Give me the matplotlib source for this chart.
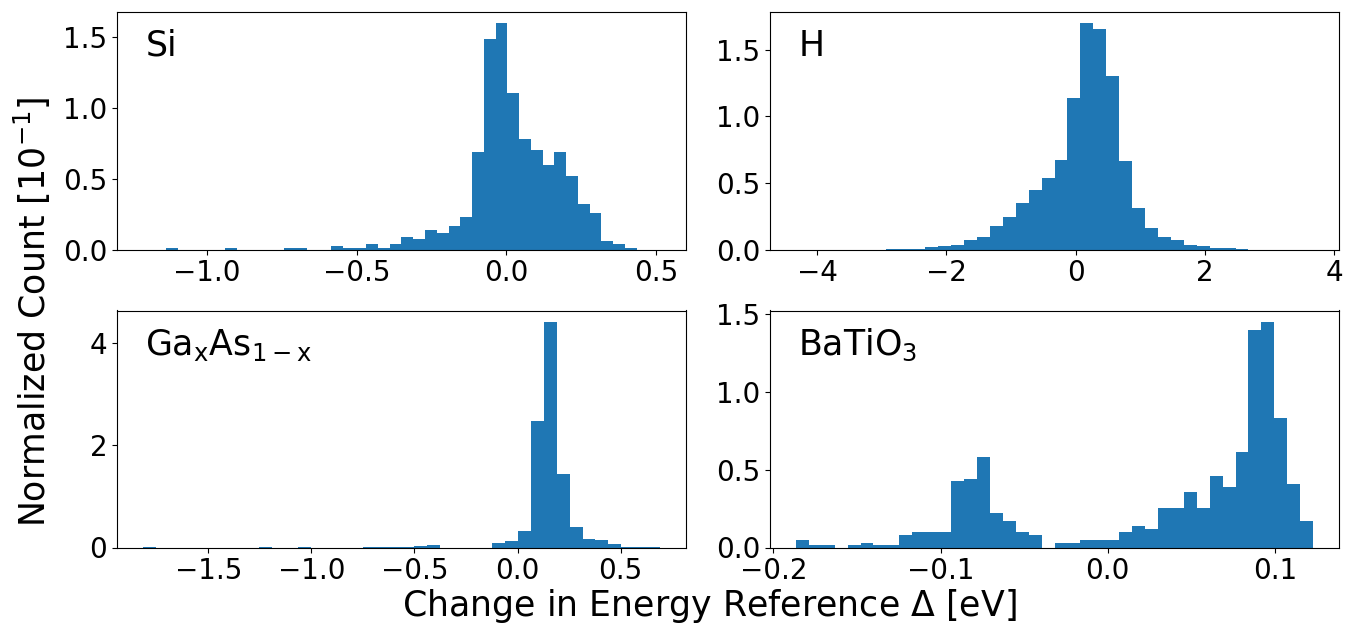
import numpy as np
import matplotlib
matplotlib.use("Agg")
import matplotlib.pyplot as plt
from matplotlib.ticker import MultipleLocator

# ---------------- data ----------------
si_range = (-1.214, 0.514)
si_heights = [0, 0, 0.012, 0, 0, 0, 0, 0.012, 0, 0,
              0, 0, 0.012, 0.012, 0, 0, 0.028, 0.012, 0.012, 0.042,
              0.012, 0.042, 0.089, 0.075, 0.136, 0.120, 0.167, 0.228, 0.692, 1.492,
              1.600, 1.106, 0.784, 0.706, 0.600, 0.692, 0.522, 0.322, 0.261, 0.061,
              0.042, 0.012, 0, 0]

h_range = (-4.329, 3.677)
h_heights = [0, 0, 0, 0, 0, 0, 0, 0.002, 0.003, 0.0075,
             0.020, 0.025, 0.0375, 0.070, 0.0975, 0.175, 0.245, 0.3525, 0.445, 0.5375,
             0.675, 1.140, 1.700, 1.655, 1.3075, 0.6625, 0.310, 0.160, 0.095, 0.070,
             0.0375, 0.030, 0.015, 0.0125, 0.003, 0, 0, 0, 0, 0]

gaas_range = (-1.817, 0.691)
gaas_heights = [0.006, 0, 0, 0, 0, 0, 0, 0, 0, 0.006,
                0, 0, 0.006, 0, 0, 0, 0, 0.006, 0.006, 0.006,
                0.006, 0.020, 0.045, 0, 0, 0, 0, 0.097, 0.136, 0.325,
                2.470, 4.415, 1.430, 0.400, 0.175, 0.156, 0.078, 0.005, 0.005, 0.010]

bto_range = (-0.1866, 0.1229)
bto_heights = [0.049, 0.016, 0.016, 0, 0.016, 0.032, 0.016, 0.016, 0.083, 0.100,
               0.100, 0.100, 0.426, 0.440, 0.579, 0.219, 0.170, 0.100, 0.083, 0,
               0.032, 0.032, 0.049, 0.049, 0.049, 0.100, 0.136, 0.117, 0.251, 0.251,
               0.355, 0.251, 0.457, 0.389, 0.610, 1.396, 1.447, 0.832, 0.406, 0.170]

labels = ["Si", "H", r"$\mathrm{Ga_xAs_{1-x}}$", r"BaTiO$_3$"]
x_steps = [0.5, 2, 0.5, 0.1]
xlabel = r"Change in Energy Reference $\Delta$ [eV]"
ylabel = r"Normalized Count [10$^{-1}$]"

# ---------------- plotting ----------------
W, H = 1353, 623
fig = plt.figure(figsize=(W / 100, H / 100), dpi=100)

def px_axes(l, t, r, b):
    return fig.add_axes([l / W, 1 - b / H, (r - l) / W, (b - t) / H])

boxes = [(117, 12, 686, 249.5), (770, 12, 1339, 249.5),
         (117, 310.5, 686, 547.5), (770, 310.5, 1339, 547.5)]
datasets = [(si_range, si_heights), (h_range, h_heights),
            (gaas_range, gaas_heights), (bto_range, bto_heights)]

for box, (rng, hts), lab, step in zip(boxes, datasets, labels, x_steps):
    ax = px_axes(*box)
    hts = np.asarray(hts, dtype=float)
    edges = np.linspace(rng[0], rng[1], len(hts) + 1)
    centers = 0.5 * (edges[:-1] + edges[1:])
    ax.hist(centers, bins=edges, weights=hts, color="#1f77b4")
    ax.xaxis.set_major_locator(MultipleLocator(step))
    ax.tick_params(labelsize=20)
    ax.text(0.05, 0.93, lab, transform=ax.transAxes, fontsize=25,
            ha="left", va="top")

fig.text(0.024, 0.5, ylabel, rotation=90, ha="center", va="center", fontsize=25)
fig.text(0.524, 0.028, xlabel, ha="center", va="center", fontsize=25)

fig.savefig("out.png", dpi=100)
